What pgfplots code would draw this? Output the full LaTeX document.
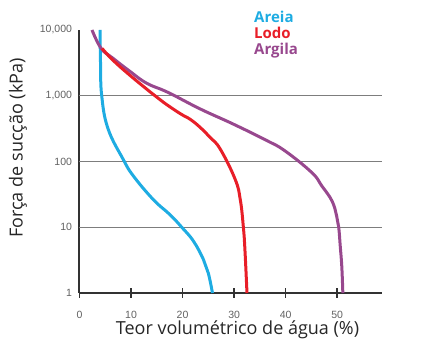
\documentclass[border=0pt]{standalone}
\usepackage{fontspec}
\setmainfont{Open Sans}
\newfontfamily\tickfont{Liberation Sans}
\usepackage{pgfplots}
\pgfplotsset{compat=1.18}
\definecolor{areia}{RGB}{30,172,226}
\definecolor{lodo}{RGB}{232,30,40}
\definecolor{argila}{RGB}{152,72,142}
\definecolor{axisgray}{RGB}{50,50,50}
\definecolor{gridgray}{RGB}{125,125,125}
\begin{document}
\begin{tikzpicture}[x=1pt,y=1pt]
\useasboundingbox (0,0) rectangle (440,352);
\begin{axis}[
  at={(79.5pt,59pt)}, anchor=origin,
  scale only axis, width=302.5pt, height=263pt,
  xmin=0, xmax=58.7, ymin=1, ymax=10000,
  ymode=log,
  axis lines*=left,
  axis line style={axisgray, line width=2pt},
  xtick={0,10,20,30,40,50},
  xticklabel style={font=\tickfont\fontsize{10.5}{11}\selectfont, text=black!62, yshift=-10pt},
  ytick={1,10,100,1000,10000},
  yticklabels={1,10,100,{1,000},{10,000}},
  yticklabel style={font=\tickfont\fontsize{10.5}{11}\selectfont, text=black!62, xshift=1pt},
  extra y ticks={10,100,1000},
  extra y tick labels={},
  extra y tick style={grid=major, major tick length=0pt},
  grid style={gridgray, line width=1.3pt},
  tick align=center,
  major tick length=10pt,
  tick style={axisgray, line width=1.5pt},
  ytick style={draw=none},
  minor tick length=0pt,
  clip=false,
  /pgf/number format/assume math mode=true,
]
\addplot[areia, line width=3pt, smooth, tension=0.7] coordinates {
(3.98,10000) (4.08,3162) (4.31,1000) (5.53,316) (8.5,107) (10.45,60.3)
(14.33,26.3) (17.57,15.5) (19.84,10) (22.1,6.17) (24.04,3.24) (25.0,2.0) (25.8,1)
};
\addplot[argila, line width=3pt, smooth, tension=0.7] coordinates {
(2.43,10000) (4.2,5248) (6.5,3715) (9.8,2344) (13.05,1549) (17.2,1122) (23.4,631)
(29.8,372) (36.3,209) (39.9,144.5) (45.1,67.6) (47.0,42.7) (49.0,25.1)
(49.9,14.8) (50.3,10) (50.6,5.13) (50.9,2.51) (51.1,1)
};
\addplot[lodo, line width=3pt, smooth, tension=0.7] coordinates {
(4.37,5248) (6.5,3467) (9.8,2042) (14.0,1096) (16.3,794) (19.5,537) (21.5,437)
(23.4,331) (25.3,234) (27.3,155) (30.2,53.7) (31.2,26.3) (31.8,10)
(32.1,4.57) (32.5,1)
};
\end{axis}
\node[font=\fontsize{18}{20}\selectfont, text=black!85] at (237.5,22) {Teor volumétrico de água (\%)};
\node[rotate=90, font=\fontsize{18}{20}\selectfont, text=black!85] at (18,204) {Força de sucção (kPa)};
\node[anchor=north west, font=\bfseries\fontsize{15}{16}\selectfont, align=left, inner sep=0pt] at (254,341)
 {\textcolor{areia}{Areia}\\\textcolor{lodo}{Lodo}\\\textcolor{argila}{Argila}};
\end{tikzpicture}
\end{document}
